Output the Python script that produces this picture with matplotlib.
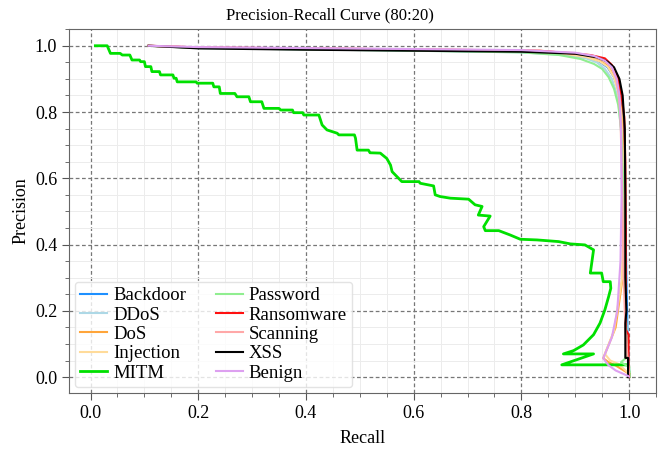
import numpy as np
import matplotlib
matplotlib.use("Agg")
import matplotlib.pyplot as plt
from matplotlib.ticker import AutoMinorLocator, MultipleLocator

plt.rcParams['font.family'] = ['Liberation Serif', 'DejaVu Serif']

# class names and colours
classes = ["Backdoor", "DDoS", "DoS", "Injection", "MITM",
           "Password", "Ransomware", "Scanning", "XSS", "Benign"]
colors = ["#1e90ff", "#add8e6", "#ffa53a", "#ffdb9a", "#00e000",
          "#90ee90", "#ff1010", "#ffa8a8", "#000000", "#dda0f0"]

# recall / precision
rec_backdoor = [0.108, 0.2, 0.4, 0.6, 0.8, 0.88, 0.92, 0.945, 0.96, 0.972, 0.982, 0.987, 0.99, 0.993, 0.995, 0.997, 0.998, 1.0]
pre_backdoor = [1.0, 0.994, 0.99, 0.986, 0.981, 0.975, 0.965, 0.952, 0.935, 0.905, 0.86, 0.80, 0.70, 0.50, 0.30, 0.14, 0.10, 0.02]

rec_ddos = [0.108, 0.2, 0.4, 0.6, 0.8, 0.88, 0.92, 0.94, 0.955, 0.968, 0.978, 0.982, 0.985, 0.988, 0.991, 0.994, 0.997, 1.0]
pre_ddos = [1.0, 0.993, 0.989, 0.985, 0.98, 0.972, 0.962, 0.95, 0.93, 0.90, 0.85, 0.80, 0.74, 0.60, 0.40, 0.20, 0.08, 0.01]

rec_dos = [0.108, 0.2, 0.4, 0.6, 0.8, 0.88, 0.92, 0.945, 0.96, 0.972, 0.981, 0.986, 0.989, 0.99, 0.988, 0.975, 0.952, 0.962, 0.975, 1.0]
pre_dos = [1.0, 0.994, 0.99, 0.987, 0.983, 0.977, 0.968, 0.955, 0.94, 0.91, 0.86, 0.80, 0.70, 0.50, 0.30, 0.15, 0.057, 0.045, 0.035, 0.01]

rec_inj = [0.108, 0.2, 0.4, 0.6, 0.8, 0.88, 0.92, 0.945, 0.96, 0.972, 0.98, 0.985, 0.988, 0.99, 0.987, 0.972, 0.955, 0.965, 0.98, 1.0]
pre_inj = [1.0, 0.994, 0.99, 0.987, 0.983, 0.976, 0.966, 0.953, 0.937, 0.905, 0.86, 0.80, 0.70, 0.50, 0.30, 0.14, 0.07, 0.05, 0.04, 0.01]

rec_mitm = [0.009, 0.031, 0.037, 0.055, 0.059, 0.073, 0.077, 0.091, 0.093, 0.100, 0.102, 0.112, 0.114, 0.128,
            0.130, 0.153, 0.155, 0.159, 0.161, 0.196, 0.198, 0.227, 0.229, 0.239, 0.241, 0.268, 0.272, 0.294,
            0.297, 0.318, 0.322, 0.350, 0.353, 0.375, 0.377, 0.394, 0.396, 0.424, 0.427, 0.430, 0.439, 0.458,
            0.461, 0.490, 0.492, 0.495, 0.516, 0.519, 0.538, 0.550, 0.557, 0.560, 0.572, 0.578, 0.610, 0.612,
            0.637, 0.640, 0.649, 0.668, 0.702, 0.714, 0.727, 0.720, 0.742, 0.730, 0.733, 0.758, 0.779, 0.798,
            0.829, 0.869, 0.891, 0.918, 0.934, 0.928, 0.949, 0.952, 0.965, 0.966, 0.962, 0.955, 0.946, 0.934,
            0.915, 0.897, 0.878, 0.934, 0.875, 0.999, 1.0]
pre_mitm = [1.0, 1.0, 0.977, 0.977, 0.972, 0.972, 0.957, 0.957, 0.952, 0.952, 0.937, 0.937, 0.922, 0.922,
            0.912, 0.912, 0.902, 0.902, 0.891, 0.891, 0.887, 0.887, 0.876, 0.876, 0.856, 0.856, 0.846, 0.846,
            0.831, 0.831, 0.811, 0.811, 0.806, 0.806, 0.798, 0.798, 0.791, 0.791, 0.776, 0.761, 0.746, 0.736,
            0.731, 0.731, 0.721, 0.685, 0.685, 0.677, 0.676, 0.660, 0.640, 0.620, 0.600, 0.590, 0.590, 0.585,
            0.577, 0.550, 0.545, 0.540, 0.537, 0.520, 0.515, 0.489, 0.486, 0.454, 0.442, 0.442, 0.429, 0.416,
            0.414, 0.409, 0.402, 0.399, 0.384, 0.314, 0.314, 0.288, 0.288, 0.268, 0.243, 0.203, 0.163, 0.128,
            0.097, 0.080, 0.070, 0.070, 0.037, 0.037, 0.002]

rec_pass = [0.108, 0.2, 0.4, 0.6, 0.8, 0.87, 0.91, 0.935, 0.95, 0.962, 0.972, 0.98, 0.985, 0.989, 0.992, 0.994, 0.996, 0.985, 1.0]
pre_pass = [1.0, 0.993, 0.989, 0.985, 0.98, 0.972, 0.96, 0.945, 0.93, 0.905, 0.87, 0.82, 0.75, 0.60, 0.40, 0.20, 0.06, 0.045, 0.03]

rec_rans = [0.108, 0.2, 0.4, 0.6, 0.835, 0.928, 0.955, 0.968, 0.980, 0.986, 0.991, 0.993, 0.994, 0.994, 0.994, 0.999, 0.999, 1.0]
pre_rans = [1.0, 0.995, 0.992, 0.989, 0.985, 0.972, 0.962, 0.942, 0.897, 0.846, 0.786, 0.645, 0.444, 0.243, 0.143, 0.128, 0.05, 0.0]

rec_scan = [0.108, 0.2, 0.4, 0.6, 0.8, 0.9, 0.935, 0.955, 0.968, 0.976, 0.981, 0.984, 0.986, 0.988, 0.99, 0.993, 0.997, 1.0]
pre_scan = [1.0, 0.995, 0.992, 0.989, 0.986, 0.978, 0.968, 0.955, 0.935, 0.90, 0.85, 0.78, 0.65, 0.50, 0.30, 0.15, 0.06, 0.01]

rec_xss = [0.108, 0.2, 0.4, 0.6, 0.8, 0.9, 0.94, 0.96, 0.972, 0.982, 0.988, 0.992, 0.993, 0.993, 0.995, 0.993, 0.993, 0.998, 0.998]
pre_xss = [1.0, 0.992, 0.988, 0.985, 0.982, 0.976, 0.965, 0.952, 0.935, 0.90, 0.85, 0.75, 0.55, 0.30, 0.20, 0.163, 0.058, 0.058, 0.0]

rec_benign = [0.108, 0.2, 0.4, 0.6, 0.8, 0.9, 0.935, 0.955, 0.968, 0.977, 0.982, 0.985, 0.986, 0.984, 0.978, 0.968, 0.952, 0.961, 0.975, 1.0]
pre_benign = [1.0, 0.996, 0.993, 0.99, 0.987, 0.979, 0.969, 0.955, 0.935, 0.90, 0.85, 0.75, 0.55, 0.35, 0.20, 0.12, 0.057, 0.037, 0.02, 0.002]

recalls = [rec_backdoor, rec_ddos, rec_dos, rec_inj, rec_mitm, rec_pass, rec_rans, rec_scan, rec_xss, rec_benign]
precisions = [pre_backdoor, pre_ddos, pre_dos, pre_inj, pre_mitm, pre_pass, pre_rans, pre_scan, pre_xss, pre_benign]

fig = plt.figure(figsize=(6.6, 4.49), dpi=100)
ax = fig.add_axes([0.1045, 0.1247, 0.8895, 0.8103])

for name, c, r, p in zip(classes, colors, recalls, precisions):
    lw = 2.0 if name == "MITM" else 1.5
    ax.plot(r, p, color=c, lw=lw, label=name)

ax.set_xlim(-0.04, 1.05)
ax.set_ylim(-0.048, 1.05)
ax.xaxis.set_major_locator(MultipleLocator(0.2))
ax.yaxis.set_major_locator(MultipleLocator(0.2))
ax.xaxis.set_minor_locator(AutoMinorLocator(4))
ax.yaxis.set_minor_locator(AutoMinorLocator(4))
ax.grid(which='major', linestyle=(0, (3, 2)), color='#777777', lw=0.9)
ax.grid(which='minor', linestyle='-', color='#ececec', lw=0.7)
ax.set_axisbelow(True)
ax.tick_params(which='both', direction='out', labelsize=13, colors='#555555', labelcolor='black')
ax.tick_params(which='major', length=5)
ax.tick_params(which='minor', length=3)
for s in ax.spines.values():
    s.set_color('#666666')

# title is centred on the figure in the reference
fig.text(0.5, 0.965, "Precision-Recall Curve (80:20)", fontsize=12, ha='center', va='center')
ax.set_xlabel("Recall", fontsize=13, labelpad=6)
ax.set_ylabel("Precision", fontsize=13)

ax.legend(loc='lower left', ncol=2, fontsize=13.5, handlelength=1.45, labelspacing=0.12,
          columnspacing=1.6, borderaxespad=0.3, handletextpad=0.3, framealpha=0.8,
          edgecolor='#dddddd', fancybox=True, borderpad=0.3)

fig.savefig("out.png", dpi=100)
